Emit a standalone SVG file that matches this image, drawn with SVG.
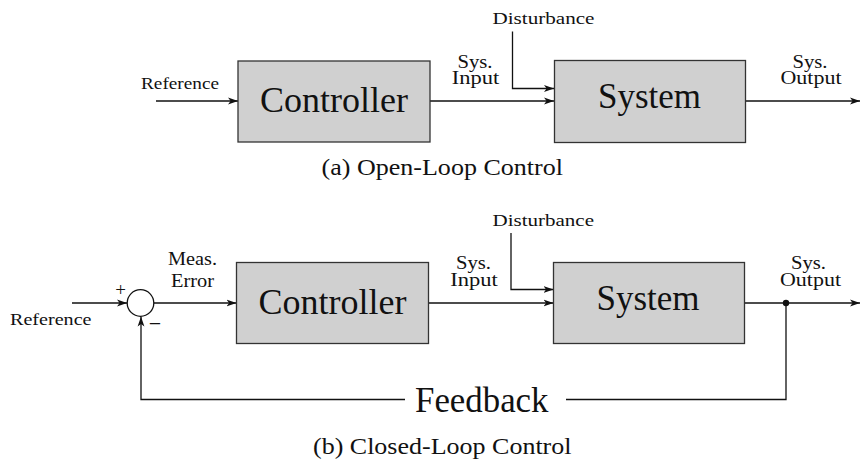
<svg xmlns="http://www.w3.org/2000/svg" width="860" height="465" viewBox="0 0 860 465">
  <style>
    .blk { fill: #d0d0d0; stroke: #333; stroke-width: 1.3; }
    .wire { fill: none; stroke: #111; stroke-width: 1.3; }
    .arr { marker-end: url(#tip); }
    text { font-family: "Liberation Serif", "Times New Roman", serif; fill: #111; }
    .big { font-size: 35px; text-anchor: middle; }
    .lbl { font-size: 18px; text-anchor: middle; }
    .sm { font-size: 17px; }
    .cap { font-size: 23px; }
  </style>
  <defs>
    <marker id="tip" viewBox="0 0 10 8" refX="10" refY="4" markerWidth="10" markerHeight="8" markerUnits="userSpaceOnUse" orient="auto">
      <path d="M0,0.6 L10,4 L0,7.4 L2.6,4 z" fill="#111"/>
    </marker>
  </defs>

  <!-- (a) open loop -->
  <g id="connectors-a">
    <line class="wire arr" x1="156" y1="101" x2="238" y2="101"/>
    <line class="wire arr" x1="430" y1="101" x2="554" y2="101"/>
    <polyline class="wire arr" points="512.5,31.5 512.5,88.5 554,88.5"/>
    <line class="wire arr" x1="746" y1="101" x2="860" y2="101"/>
  </g>
  <g id="controller-a">
    <rect class="blk" x="238" y="61" width="192" height="81"/>
    <text class="big" x="334" y="112" textLength="148" lengthAdjust="spacingAndGlyphs">Controller</text>
  </g>
  <g id="system-a">
    <rect class="blk" x="554.5" y="60.5" width="191" height="82"/>
    <text class="big" x="649.5" y="108" textLength="103" lengthAdjust="spacingAndGlyphs">System</text>
  </g>
  <g id="labels-a">
    <text class="sm" x="141" y="89" textLength="78" lengthAdjust="spacingAndGlyphs">Reference</text>
    <text class="sm" x="492.5" y="24" textLength="102" lengthAdjust="spacingAndGlyphs">Disturbance</text>
    <text class="lbl" x="475" y="68" textLength="35" lengthAdjust="spacingAndGlyphs">Sys.</text>
    <text class="lbl" x="475.5" y="84" textLength="47.5" lengthAdjust="spacingAndGlyphs">Input</text>
    <text class="lbl" x="810" y="68" textLength="35" lengthAdjust="spacingAndGlyphs">Sys.</text>
    <text class="lbl" x="811" y="84" textLength="61" lengthAdjust="spacingAndGlyphs">Output</text>
    <text class="cap" x="321.5" y="175" textLength="241.5" lengthAdjust="spacingAndGlyphs">(a) Open-Loop Control</text>
  </g>

  <!-- (b) closed loop -->
  <g id="connectors-b">
    <line class="wire arr" x1="72" y1="303" x2="127" y2="303"/>
    <line class="wire arr" x1="153.6" y1="303" x2="236.5" y2="303"/>
    <line class="wire arr" x1="428.5" y1="303" x2="553.5" y2="303"/>
    <polyline class="wire arr" points="511,233 511,289.5 553.5,289.5"/>
    <line class="wire arr" x1="744.5" y1="303" x2="860" y2="303"/>
    <polyline class="wire" points="786,303 786,399.5 566,399.5"/>
    <polyline class="wire arr" points="405,399.5 141,399.5 141,316.6"/>
    <circle cx="786" cy="303" r="3.2" fill="#111"/>
  </g>
  <g id="sum">
    <circle cx="140.5" cy="303" r="13.3" fill="#fff" stroke="#111" stroke-width="1.3"/>
    <text x="120.5" y="296" font-size="19" text-anchor="middle">+</text>
    <text x="155" y="331" font-size="22" text-anchor="middle">−</text>
  </g>
  <g id="controller-b">
    <rect class="blk" x="236.5" y="262.5" width="192" height="81"/>
    <text class="big" x="332.5" y="314" textLength="148" lengthAdjust="spacingAndGlyphs">Controller</text>
  </g>
  <g id="system-b">
    <rect class="blk" x="553.5" y="262.5" width="191" height="81"/>
    <text class="big" x="648" y="310" textLength="103" lengthAdjust="spacingAndGlyphs">System</text>
  </g>
  <g id="labels-b">
    <text class="sm" x="10" y="325" textLength="81.5" lengthAdjust="spacingAndGlyphs">Reference</text>
    <text class="lbl" x="192.5" y="265" textLength="49" lengthAdjust="spacingAndGlyphs">Meas.</text>
    <text class="lbl" x="192.5" y="287" textLength="43" lengthAdjust="spacingAndGlyphs">Error</text>
    <text class="sm" x="492.5" y="226" textLength="101.5" lengthAdjust="spacingAndGlyphs">Disturbance</text>
    <text class="lbl" x="473.5" y="269" textLength="35" lengthAdjust="spacingAndGlyphs">Sys.</text>
    <text class="lbl" x="474" y="286" textLength="47.5" lengthAdjust="spacingAndGlyphs">Input</text>
    <text class="lbl" x="808.5" y="269" textLength="35" lengthAdjust="spacingAndGlyphs">Sys.</text>
    <text class="lbl" x="810.5" y="286" textLength="61" lengthAdjust="spacingAndGlyphs">Output</text>
    <text x="415" y="412" font-size="36" textLength="133.5" lengthAdjust="spacingAndGlyphs">Feedback</text>
    <text class="cap" x="313" y="454" textLength="258.5" lengthAdjust="spacingAndGlyphs">(b) Closed-Loop Control</text>
  </g>
</svg>
